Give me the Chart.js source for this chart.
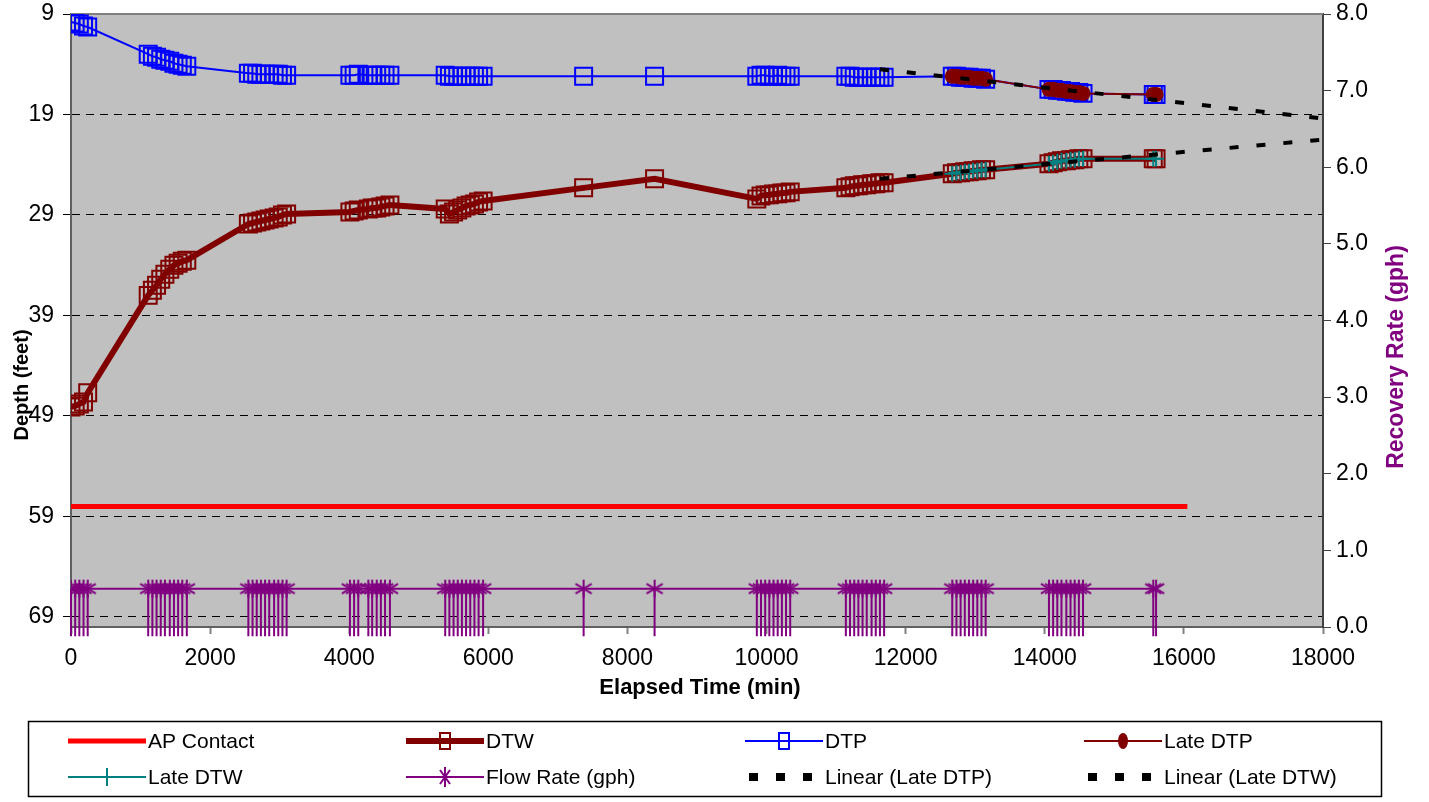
<!DOCTYPE html>
<html>
<head>
<meta charset="utf-8">
<title>Recovery Test</title>
<script src="https://cdn.jsdelivr.net/npm/chart.js@4.4.1/dist/chart.umd.min.js"></script>
<style>
  html, body { margin: 0; padding: 0; background: #fff; }
  #wrap { width: 1429px; height: 802px; }
</style>
</head>
<body>
<div id="wrap"><canvas id="chart" width="1429" height="802"></canvas></div>
<script>
// Elapsed time of every reading (min)
const elapsedMin = [
  0, 60, 120, 180, 240,
  1110, 1170, 1230, 1290, 1350, 1420, 1480, 1540, 1600, 1665,
  2550, 2610, 2670, 2730, 2790, 2850, 2920, 2980, 3040, 3100,
  4010, 4070, 4130, 4275, 4330, 4395, 4455, 4515, 4585,
  5380, 5440, 5500, 5560, 5620, 5680, 5740, 5800, 5860, 5925,
  7370, 8390,
  9860, 9920, 9980, 10040, 10100, 10160, 10220, 10280, 10340,
  11140, 11200, 11260, 11320, 11380, 11440, 11510, 11570, 11630, 11690,
  12670, 12730, 12790, 12850, 12910, 12970, 13030, 13090, 13150,
  14060, 14120, 14180, 14240, 14310, 14370, 14430, 14490, 14550,
  15560, 15600
];

// Depth to product (ft)
const dtpFt = [
  9.8, 9.9, 10.0, 10.2, 10.3,
  13.0, 13.2, 13.3, 13.5, 13.6, 13.7, 13.9, 14.0, 14.1, 14.2,
  14.9, 14.9, 15.0, 15.0, 15.0, 15.0, 15.0, 15.0, 15.1, 15.1,
  15.1, 15.1, 15.0, 15.1, 15.1, 15.1, 15.1, 15.1, 15.1,
  15.1, 15.2, 15.2, 15.2, 15.2, 15.2, 15.2, 15.2, 15.2, 15.2,
  15.2, 15.2,
  15.2, 15.1, 15.1, 15.2, 15.2, 15.1, 15.2, 15.2, 15.2,
  15.2, 15.2, 15.3, 15.3, 15.3, 15.3, 15.3, 15.3, 15.3, 15.3,
  15.2, 15.2, 15.3, 15.3, 15.3, 15.4, 15.4, 15.4, 15.5,
  16.5, 16.5, 16.6, 16.6, 16.7, 16.7, 16.8, 16.8, 16.9,
  17.0, 17.0
];

// Depth to water (ft)
const dtwFt = [
  48.1, 48.0, 47.8, 47.6, 46.7,
  37.0, 36.5, 36.0, 35.4, 34.9, 34.4, 34.0, 33.8, 33.6, 33.5,
  29.9, 29.8, 29.7, 29.6, 29.5, 29.4, 29.3, 29.2, 29.0, 28.9,
  28.7, 28.6, 28.5, 28.4, 28.3, 28.3, 28.2, 28.1, 28.0,
  28.4, 28.9, 28.7, 28.5, 28.3, 28.1, 28.0, 27.9, 27.7, 27.6,
  26.3, 25.4,
  27.4, 27.1, 27.0, 27.0, 26.9, 26.9, 26.8, 26.8, 26.7,
  26.3, 26.2, 26.1, 26.1, 26.0, 26.0, 25.9, 25.9, 25.8, 25.8,
  24.9, 24.8, 24.8, 24.7, 24.7, 24.6, 24.6, 24.5, 24.5,
  23.9, 23.8, 23.7, 23.6, 23.6, 23.5, 23.5, 23.4, 23.4,
  23.4, 23.4
];

// Flow rate (gph)
const flowGph = [
  0.5, 0.5, 0.5, 0.5, 0.5,
  0.5, 0.5, 0.5, 0.5, 0.5, 0.5, 0.5, 0.5, 0.5, 0.5,
  0.5, 0.5, 0.5, 0.5, 0.5, 0.5, 0.5, 0.5, 0.5, 0.5,
  0.5, 0.5, 0.5, 0.5, 0.5, 0.5, 0.5, 0.5, 0.5,
  0.5, 0.5, 0.5, 0.5, 0.5, 0.5, 0.5, 0.5, 0.5, 0.5,
  0.5, 0.5,
  0.5, 0.5, 0.5, 0.5, 0.5, 0.5, 0.5, 0.5, 0.5,
  0.5, 0.5, 0.5, 0.5, 0.5, 0.5, 0.5, 0.5, 0.5, 0.5,
  0.5, 0.5, 0.5, 0.5, 0.5, 0.5, 0.5, 0.5, 0.5,
  0.5, 0.5, 0.5, 0.5, 0.5, 0.5, 0.5, 0.5, 0.5,
  0.5, 0.5
];
const flowErrMinus = 0.62;

// Late period readings
const lateMin = [
  12670, 12730, 12790, 12850, 12910, 12970, 13030, 13090, 13150,
  14060, 14120, 14180, 14240, 14310, 14370, 14430, 14490, 14550,
  15560, 15600
];
const lateDtpFt = [
  15.2, 15.2, 15.3, 15.3, 15.3, 15.4, 15.4, 15.4, 15.5,
  16.5, 16.5, 16.6, 16.6, 16.7, 16.7, 16.8, 16.8, 16.9,
  17.0, 17.0
];
const lateDtwFt = [
  24.9, 24.8, 24.8, 24.7, 24.7, 24.6, 24.6, 24.5, 24.5,
  23.9, 23.8, 23.7, 23.6, 23.6, 23.5, 23.5, 23.4, 23.4,
  23.4, 23.4
];

// AP contact and the linear trend lines
const apMin = [0, 16050];
const apFt = [58, 58];
const trendMin = [11630, 18000];
const trendDtpFt = [14.5, 19.4];
const trendDtwFt = [25.4, 21.5];

// Tick labels
const depthTicks = [9, 19, 29, 39, 49, 59, 69];
const timeTicks = [0, 2000, 4000, 6000, 8000, 10000, 12000, 14000, 16000, 18000];
const rateTicks = [0, 1, 2, 3, 4, 5, 6, 7, 8];

const FONT = "'Liberation Sans', Arial, sans-serif";
Chart.defaults.font.family = FONT;
Chart.defaults.color = '#000';

const pairs = (xs, ys) => xs.map((x, i) => ({ x, y: ys[i] }));

// Excel-like asterisk marker
function makeStar(r, color) {
  const c = document.createElement('canvas');
  const s = r * 2 + 4;
  c.width = s; c.height = s;
  const g = c.getContext('2d');
  const m = s / 2;
  g.strokeStyle = color;
  g.lineWidth = 2;
  g.beginPath();
  g.moveTo(m, m - r); g.lineTo(m, m + r);
  g.moveTo(m - r * 0.9, m - r * 0.55); g.lineTo(m + r * 0.9, m + r * 0.55);
  g.moveTo(m - r * 0.9, m + r * 0.55); g.lineTo(m + r * 0.9, m - r * 0.55);
  g.stroke();
  return c;
}
const starMarker = makeStar(9, '#800080');

const plotBackground = {
  id: 'plotBackground',
  beforeDraw(chart) {
    const { ctx, chartArea: a } = chart;
    ctx.save();
    ctx.fillStyle = '#C0C0C0';
    ctx.fillRect(a.left, a.top, a.right - a.left, a.bottom - a.top);
    ctx.restore();
  }
};

// Top frame line and the flow-rate minus error bars
const plotFrame = {
  id: 'plotFrame',
  beforeDatasetsDraw(chart) {
    const { ctx, chartArea: a, scales } = chart;
    ctx.save();
    ctx.strokeStyle = '#808080';
    ctx.lineWidth = 2;
    ctx.beginPath();
    ctx.moveTo(a.left, a.top);
    ctx.lineTo(a.right, a.top);
    ctx.stroke();

    ctx.strokeStyle = '#800080';
    ctx.lineWidth = 2;
    ctx.beginPath();
    elapsedMin.forEach((t, i) => {
      const px = scales.x.getPixelForValue(t);
      ctx.moveTo(px, scales.rate.getPixelForValue(flowGph[i]));
      ctx.lineTo(px, scales.rate.getPixelForValue(flowGph[i] - flowErrMinus));
    });
    ctx.stroke();
    ctx.restore();
  }
};

function rotatedText(ctx, text, x, y) {
  ctx.save();
  ctx.translate(x, y);
  ctx.rotate(-Math.PI / 2);
  ctx.fillText(text, 0, 0);
  ctx.restore();
}

const axisTitles = {
  id: 'axisTitles',
  afterDraw(chart) {
    const { ctx } = chart;
    ctx.save();
    ctx.textAlign = 'center';
    ctx.textBaseline = 'middle';
    ctx.fillStyle = '#000';
    ctx.font = `bold 22px ${FONT}`;
    ctx.fillText('Elapsed Time (min)', 700, 688);
    ctx.font = `bold 20px ${FONT}`;
    rotatedText(ctx, 'Depth (feet)', 22, 385);
    ctx.fillStyle = '#800080';
    ctx.font = `bold 23px ${FONT}`;
    rotatedText(ctx, 'Recovery Rate (gph)', 1397, 357);
    ctx.restore();
  }
};

// Legend sample for one dataset
function drawSample(ctx, ds, x0, y) {
  const x1 = x0 + 78, xm = x0 + 39;
  ctx.save();
  if (ds.borderDash && ds.borderDash.length) {
    ctx.fillStyle = '#000';
    [4, 31, 58].forEach(dx => ctx.fillRect(x0 + dx, y - 4, 9, 8));
    ctx.restore();
    return;
  }
  ctx.strokeStyle = ds.borderColor;
  ctx.lineWidth = ds.borderWidth;
  ctx.beginPath();
  ctx.moveTo(x0, y);
  ctx.lineTo(x1, y);
  ctx.stroke();
  ctx.lineWidth = 2;
  if (ds.pointStyle === 'rect') {
    ctx.strokeRect(xm - 5, y - 8, 10, 16);
  } else if (ds.pointStyle === 'circle') {
    ctx.fillStyle = ds.pointBackgroundColor;
    ctx.beginPath();
    ctx.ellipse(xm, y, 5, 8, 0, 0, Math.PI * 2);
    ctx.fill();
  } else if (ds.pointStyle === 'cross') {
    ctx.beginPath();
    ctx.moveTo(xm, y - 9);
    ctx.lineTo(xm, y + 9);
    ctx.stroke();
  } else if (ds.pointStyle === starMarker) {
    ctx.beginPath();
    ctx.moveTo(xm, y - 10); ctx.lineTo(xm, y + 10);
    ctx.moveTo(xm - 5, y - 7); ctx.lineTo(xm + 5, y + 7);
    ctx.moveTo(xm - 5, y + 7); ctx.lineTo(xm + 5, y - 7);
    ctx.stroke();
  }
  ctx.restore();
}

const boxLegend = {
  id: 'boxLegend',
  afterDraw(chart) {
    const { ctx } = chart;
    const order = ['AP Contact', 'DTW', 'DTP', 'Late DTP', 'Late DTW', 'Flow Rate (gph)', 'Linear (Late DTP)', 'Linear (Late DTW)'];
    const cols = [68, 406, 745, 1084];
    const rows = [741, 777];
    ctx.save();
    ctx.fillStyle = '#fff';
    ctx.fillRect(28, 721, 1354, 76);
    ctx.strokeStyle = '#000';
    ctx.lineWidth = 1.5;
    ctx.strokeRect(28.5, 721.5, 1353, 75);
    ctx.font = `21px ${FONT}`;
    ctx.textBaseline = 'middle';
    order.forEach((label, i) => {
      const ds = chart.data.datasets.find(d => d.label === label);
      const x = cols[i % 4], y = rows[Math.floor(i / 4)];
      drawSample(ctx, ds, x, y);
      ctx.fillStyle = '#000';
      ctx.textAlign = 'left';
      ctx.fillText(label, x + 80, y + 1);
    });
    ctx.restore();
  }
};

new Chart(document.getElementById('chart'), {
  type: 'line',
  data: {
    datasets: [
      {
        label: 'Linear (Late DTP)', data: pairs(trendMin, trendDtpFt), yAxisID: 'depth',
        borderColor: '#000', borderWidth: 4, borderDash: [9, 18], pointRadius: 0, order: 0
      },
      {
        label: 'Linear (Late DTW)', data: pairs(trendMin, trendDtwFt), yAxisID: 'depth',
        borderColor: '#000', borderWidth: 4, borderDash: [9, 18], pointRadius: 0, order: 1
      },
      {
        label: 'Late DTW', data: pairs(lateMin, lateDtwFt), yAxisID: 'depth',
        borderColor: '#008080', borderWidth: 2, pointStyle: 'cross', pointRadius: 8,
        pointBorderColor: '#008080', pointBorderWidth: 2, order: 2
      },
      {
        label: 'Late DTP', data: pairs(lateMin, lateDtpFt), yAxisID: 'depth',
        borderColor: '#800000', borderWidth: 2, pointStyle: 'circle', pointRadius: 7.5,
        pointBackgroundColor: '#800000', pointBorderColor: '#800000', pointBorderWidth: 0, order: 3
      },
      {
        label: 'DTW', data: pairs(elapsedMin, dtwFt), yAxisID: 'depth',
        borderColor: '#800000', borderWidth: 6, pointStyle: 'rect', pointRadius: 12,
        pointBackgroundColor: 'rgba(0,0,0,0)', pointBorderColor: '#800000', pointBorderWidth: 2, order: 4
      },
      {
        label: 'DTP', data: pairs(elapsedMin, dtpFt), yAxisID: 'depth',
        borderColor: '#0000FF', borderWidth: 2, pointStyle: 'rect', pointRadius: 12,
        pointBackgroundColor: 'rgba(0,0,0,0)', pointBorderColor: '#0000FF', pointBorderWidth: 2, order: 5
      },
      {
        label: 'Flow Rate (gph)', data: pairs(elapsedMin, flowGph), yAxisID: 'rate',
        borderColor: '#800080', borderWidth: 2, pointStyle: starMarker, pointRadius: 9, order: 6
      },
      {
        label: 'AP Contact', data: pairs(apMin, apFt), yAxisID: 'depth',
        borderColor: '#FF0000', borderWidth: 5, pointRadius: 0, order: 7
      }
    ]
  },
  options: {
    responsive: false,
    animation: false,
    devicePixelRatio: 1,
    events: [],
    layout: { padding: { top: 10, left: 0, right: 0, bottom: 0 } },
    plugins: { legend: { display: false }, tooltip: { enabled: false } },
    scales: {
      x: {
        type: 'linear', position: 'bottom', min: 0, max: 18000,
        afterBuildTicks: s => { s.ticks = timeTicks.map(v => ({ value: v })); },
        afterFit: s => { s.height = 175; s.paddingLeft = 0; s.paddingRight = 0; },
        ticks: { font: { size: 23 }, color: '#000', padding: 11, maxRotation: 0, autoSkip: false, callback: v => String(v) },
        grid: { drawOnChartArea: false, tickLength: 7, tickColor: '#808080', tickWidth: 2 },
        border: { color: '#606060', width: 2 }
      },
      depth: {
        type: 'linear', position: 'left', reverse: true, min: 9, max: 70,
        afterBuildTicks: s => { s.ticks = depthTicks.map(v => ({ value: v })); },
        afterFit: s => { s.width = 71; s.paddingTop = 0; s.paddingBottom = 0; },
        ticks: { font: { size: 23 }, color: '#000', padding: 9, callback: v => String(v) },
        grid: { color: '#000', lineWidth: 1, tickLength: 8, tickColor: '#000' },
        border: { color: '#606060', width: 2, dash: [8, 6] }
      },
      rate: {
        type: 'linear', position: 'right', min: 0, max: 8,
        afterBuildTicks: s => { s.ticks = rateTicks.map(v => ({ value: v })); },
        afterFit: s => { s.width = 106; s.paddingTop = 0; s.paddingBottom = 0; },
        ticks: { font: { size: 23 }, color: '#000', padding: 5, callback: v => v.toFixed(1) },
        grid: { drawOnChartArea: false, tickLength: 8, tickColor: '#404040' },
        border: { color: '#404040', width: 2 }
      }
    }
  },
  plugins: [plotBackground, plotFrame, axisTitles, boxLegend]
});
</script>
</body>
</html>
